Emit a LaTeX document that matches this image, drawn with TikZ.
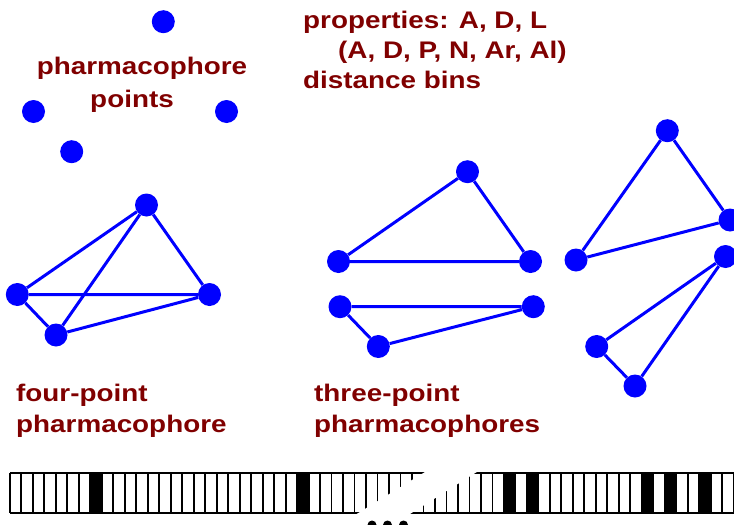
\documentclass[tikz,border=0pt]{standalone}
\usepackage{fontspec}
\newfontfamily\lblfont{Liberation Sans}[FakeStretch=1.16]
\definecolor{lblred}{RGB}{128,0,0}
\begin{document}
\begin{tikzpicture}[x=1pt,y=-1pt,
  pt/.style={circle,fill=blue,inner sep=0pt,minimum size=23pt},
  edge/.style={blue,line width=3pt},
  lbl/.style={text=lblred,font=\lblfont\bfseries\fontsize{24}{31}\selectfont,inner sep=0pt,align=left,anchor=base west},
  cellline/.style={line width=1.8pt},
  barline/.style={line width=1.4pt}]
\useasboundingbox (0,0) rectangle (734,525);
\clip (0,0) rectangle (734,525);

% free pharmacophore points
\node[pt] (p1) at (163.3,21.7) {};
\node[pt] (p2) at (33.5,111.5) {};
\node[pt] (p3) at (226.5,111.5) {};
\node[pt] (p4) at (71.7,151.7) {};

% four-point pharmacophore
\node[pt] (f1) at (146.5,205) {};
\node[pt] (f2) at (17.3,294.5) {};
\node[pt] (f3) at (209.5,294.5) {};
\node[pt] (f4) at (56,335) {};
\draw[edge] (f2) -- (f1) (f2) -- (f3) (f2) -- (f4) (f4) -- (f1) (f4) -- (f3) (f1) -- (f3);

% three-point pharmacophores, middle
\node[pt] (a1) at (467.5,171.7) {};
\node[pt] (a2) at (338.5,261.5) {};
\node[pt] (a3) at (530.5,261.5) {};
\draw[edge] (a2) -- (a1) (a1) -- (a3) (a2) -- (a3);
\node[pt] (b1) at (340,306.7) {};
\node[pt] (b2) at (533.3,306.7) {};
\node[pt] (b3) at (378.3,346.5) {};
\draw[edge] (b1) -- (b2) (b1) -- (b3) (b3) -- (b2);

% three-point pharmacophores, right
\node[pt] (c1) at (667.3,130.7) {};
\node[pt] (c2) at (730,220) {};
\node[pt] (c3) at (576,260) {};
\draw[edge] (c3) -- (c1) (c1) -- (c2) (c3) -- (c2);
\node[pt] (d1) at (725.5,256.5) {};
\node[pt] (d2) at (596.7,346.5) {};
\node[pt] (d3) at (635,386) {};
\draw[edge] (d2) -- (d1) (d3) -- (d1) (d2) -- (d3);

% labels (anchor = baseline of the last line)
\node[lbl,align=center,anchor=base,font=\lblfont\bfseries\fontsize{24}{33}\selectfont] (lp) at (142,107) {pharmacophore\\points\hspace*{20pt}};
\node[lbl,font=\lblfont\bfseries\fontsize{24}{30}\selectfont] (lprop) at (303,88) {properties: A, D, L\\\hspace*{35pt}(A, D, P, N, Ar, Al)\\distance bins};
\node[lbl] (lfour) at (16,432.7) {four-point\\pharmacophore};
\node[lbl] (lthree) at (314,432.7) {three-point\\pharmacophores};

% bit string
\foreach \i in {7,25,43,45,55,57,60}
  \fill (9.87+\i*11.49,473) rectangle ++(11.49,40);
\foreach \i in {0,...,63}
  \draw[cellline] (9.87+\i*11.49,473) -- ++(0,40);
\draw[barline] (9.87,473) -- (740,473);
\draw[barline] (9.87,513) -- (740,513);
\fill[white] (354.2,515.5) -- (426.6,471) -- (478.4,471) -- (407.6,515.5) -- cycle;
\fill (372,525) circle (4.5);
\fill (387.5,525) circle (4.5);
\fill (403.5,525) circle (4.5);
\end{tikzpicture}
\end{document}
